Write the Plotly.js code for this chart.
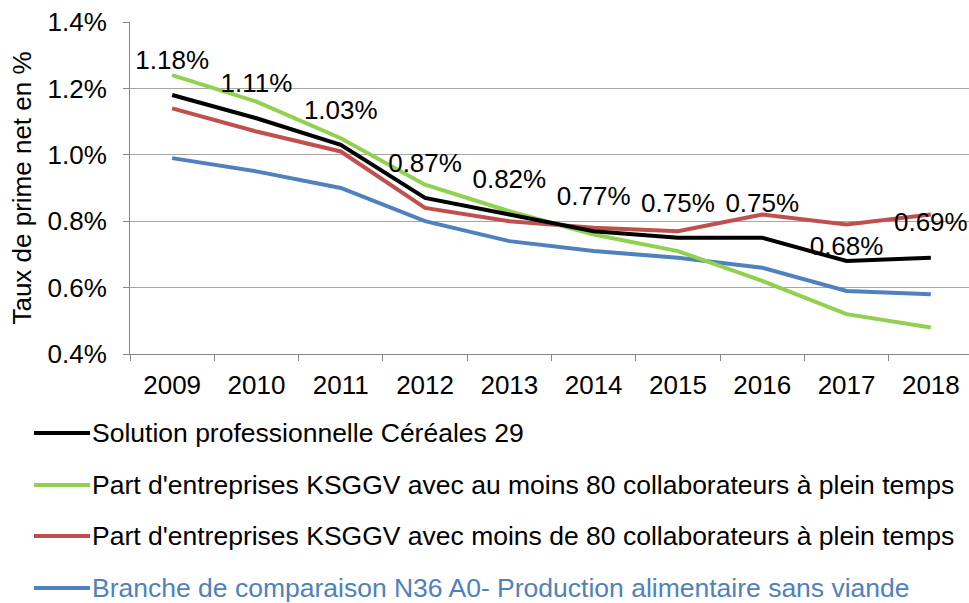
<!DOCTYPE html>
<html>
<head>
<meta charset="utf-8">
<script src="https://cdn.plot.ly/plotly-3.0.1.min.js"></script>
<style>html,body{margin:0;padding:0;background:#fff;}#chart{width:969px;height:603px;}</style>
</head>
<body>
<div id="chart"></div>
<script>
const years = ['2009','2010','2011','2012','2013','2014','2015','2016','2017','2018'];
const solutionCereales = [1.18, 1.11, 1.03, 0.87, 0.82, 0.77, 0.75, 0.75, 0.68, 0.69];
const ksggvAuMoins80 = [1.24, 1.16, 1.05, 0.91, 0.83, 0.76, 0.71, 0.62, 0.52, 0.48];
const ksggvMoins80 = [1.14, 1.07, 1.01, 0.84, 0.80, 0.78, 0.77, 0.82, 0.79, 0.82];
const brancheN36 = [0.99, 0.95, 0.90, 0.80, 0.74, 0.71, 0.69, 0.66, 0.59, 0.58];
const seriesNames = [
  'Solution professionnelle Céréales 29',
  "Part d'entreprises KSGGV avec au moins 80 collaborateurs à plein temps",
  "Part d'entreprises KSGGV avec moins de 80 collaborateurs à plein temps",
  'Branche de comparaison N36 A0- Production alimentaire sans viande'
];
const seriesColors = ['#000000', '#92D050', '#C0504D', '#4F81BD'];
const legendTextColors = ['#000000', '#000000', '#000000', '#4F81BD'];
const yTicks = [0.4, 0.6, 0.8, 1.0, 1.2, 1.4];

const FONT = 'Arial, "Liberation Sans", sans-serif';
const W = 969, H = 603;
const L = 130, R = 0, T = 22, B = 249;
const plotW = W - L - R, plotH = H - T - B;

const dataSeries = [solutionCereales, ksggvAuMoins80, ksggvMoins80, brancheN36];
// invisible marker sizes only control how far each data label sits above its point
const labelGap = years.map(y => (y === '2017' ? 0 : 30));
// draw order: blue, red, green, black on top
const order = [3, 2, 1, 0];
const traces = order.map(i => ({
  type: 'scatter',
  x: years,
  y: dataSeries[i],
  name: seriesNames[i],
  mode: i === 0 ? 'lines+markers+text' : 'lines',
  text: i === 0 ? dataSeries[i].map(v => v.toFixed(2) + '%') : undefined,
  textposition: 'top center',
  textfont: {family: FONT, size: 26, color: '#000000'},
  marker: {size: labelGap, opacity: 0, color: seriesColors[i]},
  line: {color: seriesColors[i], width: 4},
  hoverinfo: 'x+y',
  showlegend: false,
  cliponaxis: false
}));

// custom legend (pixel positions converted to paper coords)
const toPX = px => (px - L) / plotW;
const toPY = py => (H - B - py) / plotH;
const legendRowY = [433, 485, 536, 588];
const shapes = [];
const annotations = [];
seriesNames.forEach((name, i) => {
  shapes.push({type: 'line', xref: 'paper', yref: 'paper',
    x0: toPX(34), x1: toPX(90), y0: toPY(legendRowY[i]), y1: toPY(legendRowY[i]),
    line: {color: seriesColors[i], width: 4}});
  annotations.push({xref: 'paper', yref: 'paper', x: toPX(90), y: toPY(legendRowY[i]),
    xanchor: 'left', yanchor: 'middle', showarrow: false, text: name,
    font: {family: FONT, size: 26.5, color: legendTextColors[i]}});
});

const layout = {
  width: W, height: H,
  margin: {l: L, r: R, t: T, b: B, pad: 0},
  paper_bgcolor: '#ffffff', plot_bgcolor: '#ffffff',
  showlegend: false,
  font: {family: FONT, size: 26, color: '#000000'},
  xaxis: {
    type: 'category',
    range: [-0.5, -0.5 + plotW / 84.3],
    showgrid: false,
    showline: true, linecolor: '#868686', linewidth: 1,
    ticks: 'outside', tickson: 'boundaries', ticklen: 6, tickcolor: '#868686',
    tickfont: {family: FONT, size: 26, color: '#000000'},
    ticklabelstandoff: 8,
    zeroline: false, fixedrange: true
  },
  yaxis: {
    range: [0.4, 1.4],
    tickvals: yTicks,
    ticktext: yTicks.map(v => v.toFixed(1) + '%'),
    showgrid: true, gridcolor: '#A6A6A6', gridwidth: 1,
    showline: true, linecolor: '#868686', linewidth: 1,
    ticks: 'outside', ticklen: 6, tickcolor: '#868686',
    tickfont: {family: FONT, size: 26, color: '#000000'},
    ticklabelstandoff: 11,
    zeroline: false, fixedrange: true,
    title: {text: 'Taux de prime net en %', font: {family: FONT, size: 26, color: '#000000'}, standoff: 8}
  },
  shapes: shapes,
  annotations: annotations
};

Plotly.newPlot('chart', traces, layout, {displayModeBar: false, staticPlot: true});
</script>
</body>
</html>
